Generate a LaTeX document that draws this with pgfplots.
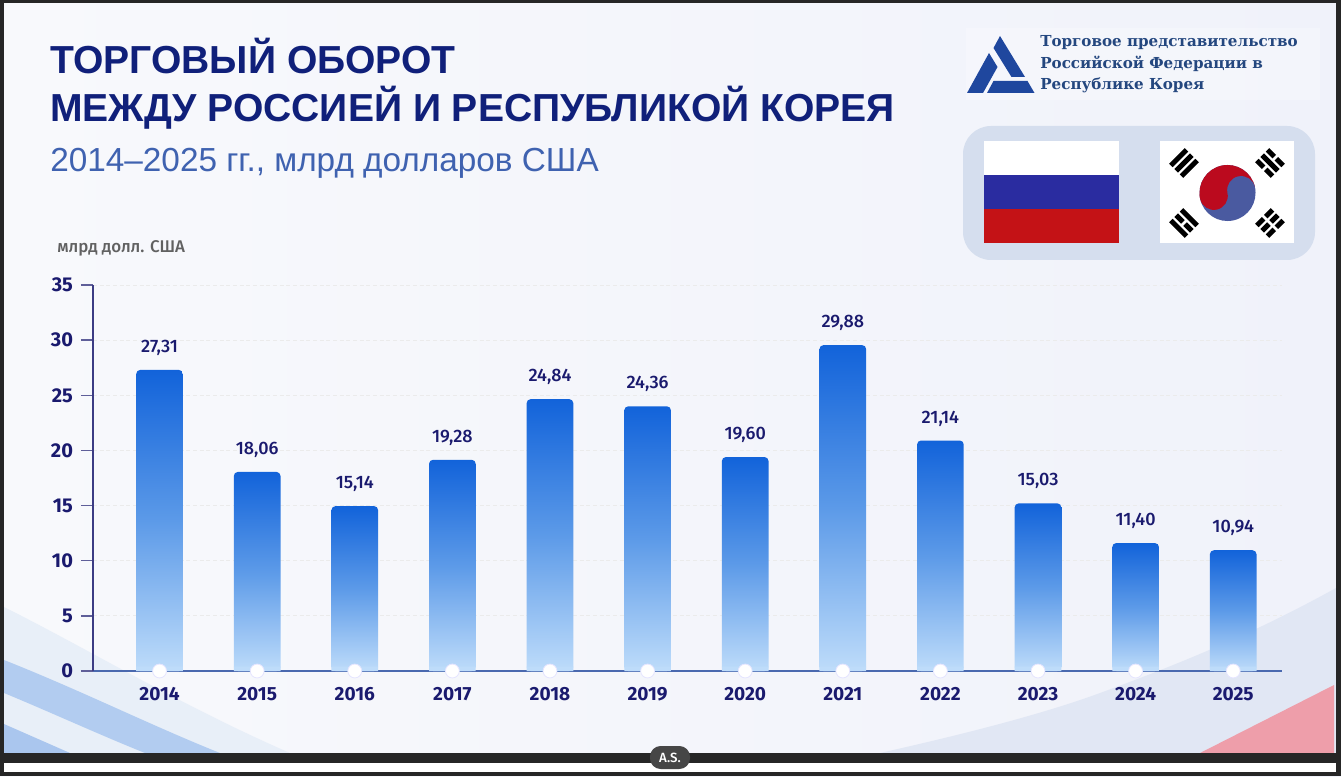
\documentclass[border=0pt]{standalone}
\usepackage{fontspec}
\setmainfont{Fira Sans}
\newfontfamily\med{Fira Sans Medium}
\newfontfamily\arl{Liberation Sans}
\newfontfamily\serifb{DejaVu Serif}
\usepackage{pgfplots}
\usepackage{pgfplotstable}
\pgfplotsset{compat=1.18}
\definecolor{navy}{HTML}{10207A}
\definecolor{subt}{HTML}{3F62B0}
\definecolor{tick}{HTML}{1A1A6E}
\definecolor{bartop}{HTML}{1263DA}
\definecolor{barmid}{HTML}{5C9AE8}
\definecolor{barbot}{HTML}{BEDCFA}
\definecolor{logob}{HTML}{1F479E}
\definecolor{logot}{HTML}{24477F}
\definecolor{panel}{HTML}{D5DEEE}
\definecolor{bgl}{RGB}{248,249,252}
\definecolor{bgr}{RGB}{240,242,250}
\definecolor{swa}{RGB}{232,239,248}
\definecolor{swb}{RGB}{178,204,240}
\definecolor{swc}{RGB}{170,198,238}
\definecolor{swd}{RGB}{225,231,244}
\definecolor{swe}{RGB}{238,158,170}
\definecolor{ruf}{RGB}{42,44,160}
\definecolor{rur}{RGB}{196,18,22}
\definecolor{kob}{RGB}{74,90,160}
\definecolor{kor}{RGB}{187,10,30}
\definecolor{frm}{RGB}{38,38,38}
\definecolor{pil}{RGB}{70,70,70}
\definecolor{xax}{RGB}{74,105,175}
\pgfplotstableread{
x height lab
0 27.3 27,31
1 18.05 18,06
2 14.95 15,14
3 19.15 19,28
4 24.65 24,84
5 24.0 24,36
6 19.4 19,60
7 29.55 29,88
8 20.9 21,14
9 15.2 15,03
10 11.6 11,40
11 10.95 10,94
}\turnover
\newcommand{\trigram}[6]{%
 \begin{scope}[shift={(#1,#2)},rotate=#3]
  \foreach \o/\p in {-7.5/#4,0/#5,7.5/#6}{
   \ifnum\p=1
    \fill[black] (-11,\o-2.5) rectangle (11,\o+2.5);
   \else
    \fill[black] (-11,\o-2.5) rectangle (-1.5,\o+2.5);
    \fill[black] (1.5,\o-2.5) rectangle (11,\o+2.5);
   \fi}
 \end{scope}}
\begin{document}
\begin{tikzpicture}
\useasboundingbox (0,0) rectangle (1005.75pt,582pt);
\begin{scope}[x=0.75pt,y=-0.75pt,yshift=582pt]
 % background
 \shade[left color=bgl,right color=bgr] (0,0) rectangle (1341,776);
 \fill[white,opacity=.25] (966,28) rectangle (1320,100);
 % lower-left sweeps
 \fill[swa] (4,607) .. controls (90,650) and (180,705) .. (290,753) -- (4,753) -- cycle;
 \fill[swb] (4,660) .. controls (80,690) and (150,725) .. (220,753) -- (145,753) .. controls (100,735) and (50,712) .. (4,693) -- cycle;
 \fill[swc] (4,724) -- (70,753) -- (4,753) -- cycle;
 % lower-right sweeps
 \fill[swd] (1336,588) .. controls (1260,630) and (1190,660) .. (1100,693) .. controls (1040,715) and (960,735) .. (880,753) -- (1336,753) -- cycle;
 \fill[swe] (1334,685) -- (1200,753) -- (1334,753) -- cycle;
 % titles
 \node[anchor=base west,inner sep=0pt,font=\arl\fontsize{29.3pt}{29.3pt}\selectfont\bfseries,text=navy] at (50,74) {ТОРГОВЫЙ ОБОРОТ};
 \node[anchor=base west,inner sep=0pt,font=\arl\fontsize{29.3pt}{29.3pt}\selectfont\bfseries,text=navy] at (50,122) {МЕЖДУ РОССИЕЙ И РЕСПУБЛИКОЙ КОРЕЯ};
 \node[anchor=base west,inner sep=0pt,font=\arl\fontsize{25pt}{25pt}\selectfont,text=subt] at (50,172) {2014–2025 гг., млрд долларов США};
 \node[anchor=base west,inner sep=0pt,font=\med\fontsize{12.7pt}{12.7pt}\selectfont,text=black!62] at (57,253) {млрд долл. США};
 % logo
 \fill[logob] (1000,36) -- (1025,77) -- (1011.5,77) -- (993.5,48) -- cycle;
 \fill[logob] (967,93) -- (989,53) -- (997.5,67) -- (983,93) -- cycle;
 \fill[logob] (987,93) -- (993.5,81) -- (1027.5,81) -- (1034.5,93) -- cycle;
 \node[anchor=base west,inner sep=0pt,font=\serifb\fontsize{11.35pt}{11.35pt}\selectfont\bfseries,text=logot] at (1040,47) {Торговое представительство};
 \node[anchor=base west,inner sep=0pt,font=\serifb\fontsize{11.35pt}{11.35pt}\selectfont\bfseries,text=logot] at (1040,69) {Российской Федерации в};
 \node[anchor=base west,inner sep=0pt,font=\serifb\fontsize{11.35pt}{11.35pt}\selectfont\bfseries,text=logot] at (1040,90) {Республике Корея};
 % flags
 \fill[panel,rounded corners=21pt] (963,126) rectangle (1315,260);
 \fill[white] (984,141) rectangle (1119,175);
 \fill[ruf] (984,175) rectangle (1119,209);
 \fill[rur] (984,209) rectangle (1119,243);
 \fill[white] (1160,141) rectangle (1294,243);
 \trigram{1184}{163}{45}{1}{1}{1}
 \trigram{1270}{163}{-45}{0}{1}{0}
 \trigram{1184}{223}{-45}{1}{0}{1}
 \trigram{1270}{223}{45}{0}{0}{0}
 \begin{scope}[shift={(1227.5,193)},rotate=12]
  \fill[kob] (0,0) circle (28);
  \fill[kor] (-28,0) arc[start angle=180,end angle=360,radius=28] -- cycle;
  \fill[kor] (-14,0) circle (14);
  \fill[kob] (14,0) circle (14);
 \end{scope}
\end{scope}
\begin{axis}[
 at={(69.75pt,78.75pt)},anchor=south west,
 scale only axis,width=891.75pt,height=289.5pt,
 xmin=-0.682,xmax=11.500,
 ymin=0,ymax=35,
 ytick={0,5,10,15,20,25,30,35},
 xtick={0,1,2,3,4,5,6,7,8,9,10,11},
 xticklabels={2014,2015,2016,2017,2018,2019,2020,2021,2022,2023,2024,2025},
 axis x line*=bottom,axis y line*=left,
 y axis line style={-,line width=1.1pt,color=tick!85!white},
 x axis line style={-,line width=1pt,color=xax},
 xtick style={draw=none},
 ytick style={color=tick!70!white,line width=1pt},
 tick align=outside,
 major tick length=9pt,
 ymajorgrids,
 major grid style={dash pattern=on 3pt off 2pt,color=black!8,line width=.6pt},
 /pgf/number format/assume math mode=true,
 xticklabel style={font=\fontsize{14.3pt}{14.3pt}\selectfont\bfseries,text=tick,yshift=0pt},
 yticklabel style={font=\fontsize{15pt}{15pt}\selectfont\bfseries,text=tick,xshift=-2.5pt},
 clip mode=individual,
]
\pgfplotsinvokeforeach{0,1,2,3,4,5,6,7,8,9,10,11}{
\addplot[ybar,bar width=35pt,draw=none,bottom color=barbot,top color=bartop,middle color=barmid,rounded corners=3pt,
 restrict x to domain=#1:#1,
 nodes near coords,point meta=explicit symbolic,
 every node near coord/.append style={font=\med\fontsize{13.5pt}{13.5pt}\selectfont,text=tick,rounded corners=0pt,anchor=center,yshift=16.5pt,shade=false}]
 table[x=x,y=height,meta=lab]{\turnover};
}
\addplot[ybar,bar width=35pt,draw=none,fill=barbot] table[x=x,y expr=0.4]{\turnover};
\addplot[only marks,mark=*,mark size=5.2pt,mark options={fill=white,draw=white!90!blue,line width=.6pt}]
 table[x=x,y expr=0]{\turnover};
\end{axis}
\begin{scope}[x=0.75pt,y=-0.75pt,yshift=582pt]
 \fill[frm] (0,0) rectangle (1341,3);
 \fill[frm] (0,0) rectangle (4,776);
 \fill[frm] (1336,0) rectangle (1341,776);
 \fill[frm] (0,753) rectangle (1341,763);
 \fill[white] (4,763) rectangle (1336,772);
 \fill[frm] (0,772) rectangle (1341,776);
 \fill[pil,rounded corners=8pt] (650,746) rectangle (690,769);
 \node[text=white,font=\med\fontsize{10pt}{10pt}\selectfont] at (670,757.5) {A.S.};
\end{scope}
\end{tikzpicture}
\end{document}
